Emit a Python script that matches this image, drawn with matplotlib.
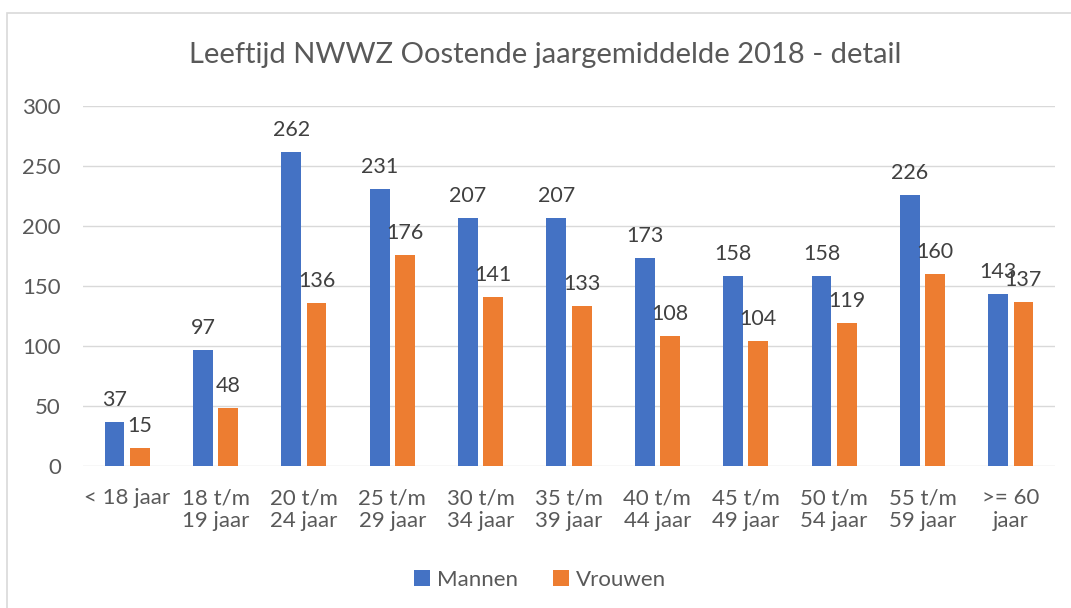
import numpy as np
import matplotlib.pyplot as plt
from matplotlib.patches import Rectangle

categories = ['< 18 jaar', '18 t/m\n19 jaar', '20 t/m\n24 jaar', '25 t/m\n29 jaar',
              '30 t/m\n34 jaar', '35 t/m\n39 jaar', '40 t/m\n44 jaar', '45 t/m\n49 jaar',
              '50 t/m\n54 jaar', '55 t/m\n59 jaar', '>= 60\njaar']
mannen = [37, 97, 262, 231, 207, 207, 173, 158, 158, 226, 143]
vrouwen = [15, 48, 136, 176, 141, 133, 108, 104, 119, 160, 137]

plt.rcParams['font.family'] = ['Lato', 'DejaVu Sans']
text_col = '#595959'

fig = plt.figure(figsize=(10.71, 6.08), dpi=100)
ax = fig.add_axes([83 / 1071, 142 / 608, 972 / 1071, 360 / 608])

# chart border (light gray)
fig.patches.append(Rectangle((7 / 1071, -0.1), 1.2, 595 / 608 + 0.1,
                             transform=fig.transFigure, fill=False,
                             edgecolor='#D9D9D9', linewidth=1.2))

x = np.arange(len(categories))
w = 0.225
off = 0.143
b1 = ax.bar(x - off, mannen, w, color='#4472C4', label='Mannen')
b2 = ax.bar(x + off, vrouwen, w, color='#ED7D31', label='Vrouwen')

for bars in (b1, b2):
    for r in bars:
        ax.text(r.get_x() + r.get_width() / 2, r.get_height() + 10, str(int(r.get_height())),
                ha='center', va='bottom', fontsize=15.5, color='#404040')

ax.set_xlim(-0.5, len(categories) - 0.5)
ax.set_ylim(0, 300)
ax.set_yticks(range(0, 301, 50))
ax.grid(axis='y', color='#D9D9D9', linewidth=1)
ax.set_axisbelow(True)
for s in ax.spines.values():
    s.set_visible(False)
ax.tick_params(axis='both', length=0, labelsize=16, colors=text_col)
ax.tick_params(axis='y', pad=16)
ax.tick_params(axis='x', pad=16)
ax.set_xticks(x)
ax.set_xticklabels(categories, linespacing=1.2)

fig.text(545 / 1071, 1 - 55 / 608, 'Leeftijd NWWZ Oostende jaargemiddelde 2018 - detail',
         ha='center', va='center', fontsize=21, color=text_col)

fig.legend(handles=[b1, b2], loc='center', bbox_to_anchor=(540 / 1071, 1 - 580 / 608),
           ncol=2, frameon=False, fontsize=16, labelcolor=text_col,
           handlelength=0.7, handleheight=0.7, handletextpad=0.3, columnspacing=1.6)

fig.savefig('out.png', dpi=100)
